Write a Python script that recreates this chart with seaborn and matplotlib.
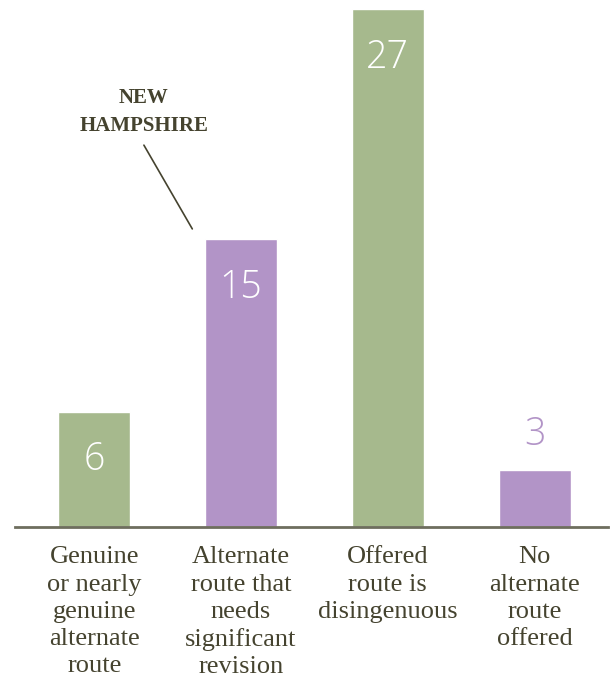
import numpy as np
import matplotlib
matplotlib.use('Agg')
import matplotlib.pyplot as plt
import seaborn as sns

categories = ['Genuine\nor nearly\ngenuine\nalternate\nroute',
              'Alternate\nroute that\nneeds\nsignificant\nrevision',
              'Offered\nroute is\ndisingenuous',
              'No\nalternate\nroute\noffered']
counts = [6, 15, 27, 3]
bar_colors = ['#a6b98d', '#b294c7', '#a6b98d', '#b294c7']
callout = 'NEW\nHAMPSHIRE'
callout_bar = 1

text_color = '#45432f'

sns.set_style('white')
fig = plt.figure(figsize=(6.1, 6.81), dpi=100)
ax = fig.add_axes([0.0246, 0.2261, 0.972, 0.7739])

sns.barplot(x=categories, y=counts, hue=categories, palette=bar_colors,
            width=0.49, saturation=1, legend=False, ax=ax)

ax.set_xlim(-0.54, 3.50)
ax.set_ylim(0, 27.49)

for s in ['top', 'right', 'left']:
    ax.spines[s].set_visible(False)
ax.spines['bottom'].set_color('#6e6e5e')
ax.spines['bottom'].set_linewidth(2)
ax.set_yticks([])
ax.set_ylabel('')
ax.tick_params(axis='x', length=0, pad=14)
for lbl in ax.get_xticklabels():
    lbl.set_fontfamily('Liberation Serif')
    lbl.set_fontsize(19)
    lbl.set_color(text_color)
    lbl.set_linespacing(1.3)

# value labels
for i, v in enumerate(counts):
    if v > 4:
        ax.annotate(str(v), xy=(i, v), xytext=(0, -42), textcoords='offset points',
                    ha='center', va='baseline', color='white', fontsize=27,
                    fontfamily='Open Sans', fontweight='light')
    else:
        ax.annotate(str(v), xy=(i, v), xytext=(0, 18), textcoords='offset points',
                    ha='center', va='baseline', color=bar_colors[i], fontsize=27,
                    fontfamily='Open Sans', fontweight='light')

# callout with leader line
ax.annotate(callout, xy=(callout_bar - 0.332, counts[callout_bar] + 0.55),
            xytext=(-35, 67), textcoords='offset points',
            ha='center', va='bottom', fontsize=15, fontweight='bold',
            fontfamily='Liberation Serif', color=text_color, linespacing=1.55,
            arrowprops=dict(arrowstyle='-', color=text_color, lw=1.2,
                            relpos=(0.46, 0), shrinkA=5, shrinkB=0))

fig.savefig('out.png', dpi=100, facecolor='white')
